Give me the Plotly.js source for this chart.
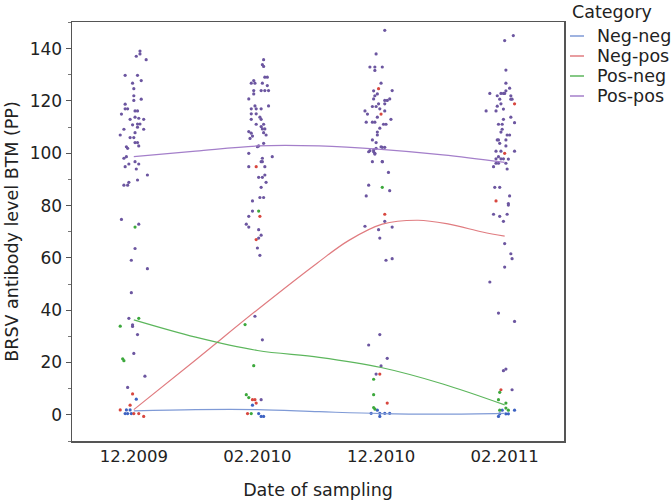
<!DOCTYPE html>
<html>
<head>
<meta charset="utf-8">
<script src="https://cdn.plot.ly/plotly-3.0.1.min.js"></script>
<style>html,body{margin:0;padding:0;background:#fff;}#chart{width:672px;height:500px;}</style>
</head>
<body>
<div id="chart"></div>
<script>
// Category positions and tick labels
var tickVals = [1, 2, 3, 4];
var tickLabels = ["12.2009", "02.2010", "12.2010", "02.2011"];
var seriesNames = ["Neg-neg", "Neg-pos", "Pos-neg", "Pos-pos"];
var legendTitle = "Category";

// Pos-pos points (jittered x, value)
var ppX = [1.05,1.02,1.05,1.10,0.93,1.03,1.06,0.99,1.00,1.00,1.06,1.00,0.93,0.93,0.95,1.01,1.03,0.90,1.01,1.04,1.08,0.97,1.03,1.05,0.99,1.03,1.08,0.92,1.01,0.89,0.97,1.00,1.01,1.03,0.94,1.04,0.95,0.94,0.92,1.01,1.04,0.96,0.93,1.02,1.11,1.03,0.96,0.92,0.95,0.90,1.04,1.01,0.98,1.11,0.98,0.96,0.99,0.99,1.03,1.00,1.09,0.95,
  2.05,2.04,2.05,2.06,2.08,1.97,1.95,1.98,2.04,2.08,1.97,2.03,2.06,2.09,1.97,1.93,1.98,2.09,1.95,1.99,2.03,1.95,1.99,2.02,2.03,1.95,1.99,2.05,2.03,2.04,2.06,1.93,1.95,2.05,2.07,1.96,1.94,2.05,2.01,2.00,1.93,2.04,2.12,2.03,2.04,1.93,2.06,2.06,2.01,2.04,2.07,2.03,2.02,2.05,1.96,1.96,1.93,1.91,1.93,2.01,2.03,2.01,2.00,2.02,1.98,2.04,2.03,
  3.03,2.96,2.91,2.95,3.01,2.95,3.00,2.94,3.09,2.97,2.95,2.94,3.07,3.03,3.05,2.98,2.96,3.03,2.93,2.99,2.87,3.03,2.89,2.97,3.08,2.88,2.93,2.95,3.02,3.04,2.99,2.97,2.97,2.93,2.96,3.00,3.01,3.03,2.91,2.94,2.96,2.95,2.90,2.94,2.95,2.93,3.01,3.01,3.06,2.90,3.07,2.88,3.03,2.87,3.09,2.98,2.99,3.09,3.04,2.99,2.90,3.05,3.00,2.96,
  4.07,4.00,4.01,4.01,4.04,4.01,3.88,3.97,3.99,4.00,4.05,3.94,3.96,4.05,4.06,3.97,3.94,3.93,3.99,3.85,3.99,4.05,4.08,3.95,3.98,3.98,3.97,4.02,4.04,3.94,3.95,4.01,3.96,4.01,3.93,3.97,4.08,3.95,3.93,3.97,3.99,4.03,3.93,3.95,4.01,3.91,4.02,3.92,3.96,4.04,4.03,4.03,3.91,3.96,4.02,3.99,4.00,4.05,4.06,4.00,3.88,3.95,4.08,4.01,3.99,4.06];
var ppY = [139.1,137.1,138.0,135.8,129.8,129.8,127.8,126.8,124.7,122.0,120.7,120.2,118.8,117.0,117.0,116.2,116.2,115.0,113.8,113.4,113.0,113.0,111.2,111.2,110.9,110.0,109.2,109.2,107.9,107.0,106.0,106.0,104.1,104.1,102.5,102.8,101.9,98.7,98.1,96.8,95.9,95.9,94.9,94.0,91.7,89.8,88.9,87.8,87.8,74.7,72.9,63.6,59.1,55.9,46.7,36.9,34.4,33.8,30.7,23.5,14.8,10.5,
  135.8,133.9,133.2,129.1,129.1,127.8,126.8,126.8,126.8,125.9,124.0,124.0,124.0,124.0,122.7,120.8,118.1,118.1,117.0,117.0,117.0,115.1,115.1,113.8,113.0,113.0,111.1,111.1,110.2,109.3,109.3,108.3,107.7,107.9,107.0,106.6,105.7,103.8,102.8,102.5,100.0,98.1,98.7,96.8,96.8,94.9,94.9,91.7,90.8,90.8,88.9,87.0,83.1,83.1,81.8,77.9,75.9,72.9,71.8,70.8,68.7,67.6,63.8,61.0,37.7,28.7,5.8,
  147.0,138.0,133.0,133.0,133.0,131.7,126.8,123.9,124.0,122.7,122.0,120.8,120.8,120.2,120.2,118.9,117.9,118.9,117.9,117.0,116.2,116.2,115.0,113.8,113.0,111.9,111.9,111.9,111.1,111.1,109.6,108.1,107.0,105.1,104.1,102.5,102.3,102.3,101.0,101.3,101.9,100.0,100.6,100.6,99.7,96.8,96.8,96.8,92.7,87.8,85.7,83.7,74.0,72.1,71.8,70.8,67.6,59.7,59.1,30.7,26.7,21.6,18.7,15.6,
  145.0,143.1,131.8,126.8,124.9,123.9,122.9,122.9,122.9,122.9,122.0,122.0,120.7,120.7,120.7,118.9,118.0,116.2,116.9,116.2,113.0,113.8,111.7,111.1,111.1,109.2,108.1,107.0,107.0,105.1,105.1,105.1,103.8,102.8,100.8,100.8,100.8,98.7,97.9,97.9,97.9,97.8,96.2,96.2,96.2,94.9,94.0,87.0,87.0,83.7,80.8,80.2,76.7,75.9,76.7,74.0,65.5,61.6,59.7,56.5,50.8,38.9,35.7,17.5,16.9,9.6];

// Neg-pos points
var npX = [0.99,0.97,0.89,1.00,1.04,1.08, 1.99,2.02,1.99,1.96,1.98,1.99,1.92, 2.98,3.00,3.03,2.99,3.05, 4.08,4.00,3.93,3.97];
var npY = [8.0,3.7,1.9,0.5,0.5,-0.6, 94.9,75.9,67.0,5.8,5.8,4.5,0.5, 124.7,115.0,76.7,15.6,4.5, 118.9,100.0,81.8,9.6];

// Pos-neg points
var pnX = [1.01,1.04,0.89,0.91,0.92, 2.01,1.90,1.97,1.91,1.93,1.95, 3.01,2.94,2.94,2.94,2.95, 3.96,3.95,4.01,4.01,4.03,3.96];
var pnY = [71.8,36.9,33.9,21.4,20.7, 77.9,34.5,18.8,7.7,6.6,0.5, 87.0,13.6,7.7,2.8,2.2, 8.6,5.8,4.5,2.6,1.8,1.8];

// Neg-neg points
var nnX = [1.02,0.94,0.97,0.93,0.95,0.98, 1.96,2.01,2.03,2.05, 2.97,2.92,2.99,3.07,3.03,2.99, 3.98,4.08,3.96,4.01,4.03,3.95];
var nnY = [6.0,1.9,1.9,0.5,0.5,0.5, 3.7,0.5,-0.6,-0.6, 1.8,0.6,0.6,0.6,0.6,-0.6, 1.8,1.8,0.4,0.4,0.4,-0.6];

// Smoothed trend lines
var nnLineX = [1.0, 1.5, 2.0, 2.5, 3.0, 3.5, 4.0];
var nnLineY = [1.5, 2.0, 2.0, 1.2, 0.5, 0.3, 0.6];
var npLineX = [1.0, 1.5, 2.0, 2.48, 2.74, 3.01, 3.3, 3.55, 3.82, 4.0];
var npLineY = [2.0, 21.0, 40.2, 57.9, 66.7, 72.9, 74.4, 72.9, 69.9, 68.3];
var pnLineX = [1.0, 1.5, 2.0, 2.5, 3.0, 3.5, 4.0];
var pnLineY = [36.3, 29.7, 24.6, 22.0, 18.1, 11.8, 3.8];
var ppLineX = [1.0, 1.5, 2.0, 2.5, 3.0, 3.5, 4.0];
var ppLineY = [98.7, 100.8, 102.8, 102.8, 101.5, 99.4, 96.5];

var lineColors = ["#7f9ad6", "#e07c80", "#5cb65c", "#a47fca"];
var pointColors = ["#3d62c2", "#d8473f", "#3ca83c", "#6c56a0"];

var pts = [[nnX, nnY], [npX, npY], [pnX, pnY], [ppX, ppY]];
var lines = [[nnLineX, nnLineY], [npLineX, npLineY], [pnLineX, pnLineY], [ppLineX, ppLineY]];

var traces = [];
for (var i = 0; i < 4; i++) {
  traces.push({
    type: "scatter", mode: "markers", x: pts[i][0], y: pts[i][1],
    marker: {color: pointColors[i], size: 3.2, line: {width: 0}},
    showlegend: false, hoverinfo: "skip", name: seriesNames[i]
  });
}
for (var j = 0; j < 4; j++) {
  traces.push({
    type: "scatter", mode: "lines", x: lines[j][0], y: lines[j][1],
    line: {color: lineColors[j], width: 1.2, shape: "spline", smoothing: 1},
    name: seriesNames[j], showlegend: false
  });
}

// Legend drawn as paper-positioned text and sample lines
var plotL = 72, plotR = 564, plotT = 22, plotB = 441;
function px2x(p) { return (p - plotL) / (plotR - plotL); }
function py2y(p) { return (plotB - p) / (plotB - plotT); }
var fam = "DejaVu Sans, Liberation Sans, Arial, sans-serif";
var annotations = [{
  xref: "paper", yref: "paper", x: px2x(570), y: py2y(12), xanchor: "left", yanchor: "middle",
  text: legendTitle, showarrow: false, font: {family: fam, size: 17.5, color: "#222"}
}];
var shapes = [];
for (var k = 0; k < 4; k++) {
  var cy = 36 + k * 20;
  annotations.push({
    xref: "paper", yref: "paper", x: px2x(595), y: py2y(cy), xanchor: "left", yanchor: "middle",
    text: seriesNames[k], showarrow: false, font: {family: fam, size: 17.5, color: "#222"}
  });
  shapes.push({
    type: "line", xref: "paper", yref: "paper", x0: px2x(570), x1: px2x(584), y0: py2y(cy), y1: py2y(cy),
    line: {color: lineColors[k], width: 1.5}
  });
}

var layout = {
  width: 672, height: 500,
  margin: {l: plotL, r: 672 - plotR, t: plotT, b: 500 - plotB},
  paper_bgcolor: "#fff", plot_bgcolor: "#fff",
  font: {family: fam, size: 17, color: "#222"},
  showlegend: false,
  annotations: annotations,
  shapes: shapes,
  xaxis: {
    range: [0.5, 4.48], tickvals: tickVals, ticktext: tickLabels,
    showgrid: false, zeroline: false, showline: true, mirror: true,
    linecolor: "#555", linewidth: 1.5, ticks: "",
    tickfont: {family: fam, size: 16.5, color: "#222"},
    title: {text: "Date of sampling", font: {family: fam, size: 17.5, color: "#222"}, standoff: 18}
  },
  yaxis: {
    range: [-10, 150.2], tickvals: [0, 20, 40, 60, 80, 100, 120, 140],
    showgrid: false, zeroline: false, showline: true, mirror: true,
    linecolor: "#555", linewidth: 1.5, ticks: "outside", ticklen: 5, tickcolor: "#555", tickwidth: 1,
    minor: {dtick: 10, tick0: 0, ticks: "outside", ticklen: 3, tickcolor: "#777", showgrid: false},
    tickfont: {family: fam, size: 17, color: "#222"},
    title: {text: "BRSV antibody level BTM (PP)", font: {family: fam, size: 17.5, color: "#222"}, standoff: 6}
  }
};

Plotly.newPlot("chart", traces, layout, {displayModeBar: false, staticPlot: true});
</script>
</body>
</html>
